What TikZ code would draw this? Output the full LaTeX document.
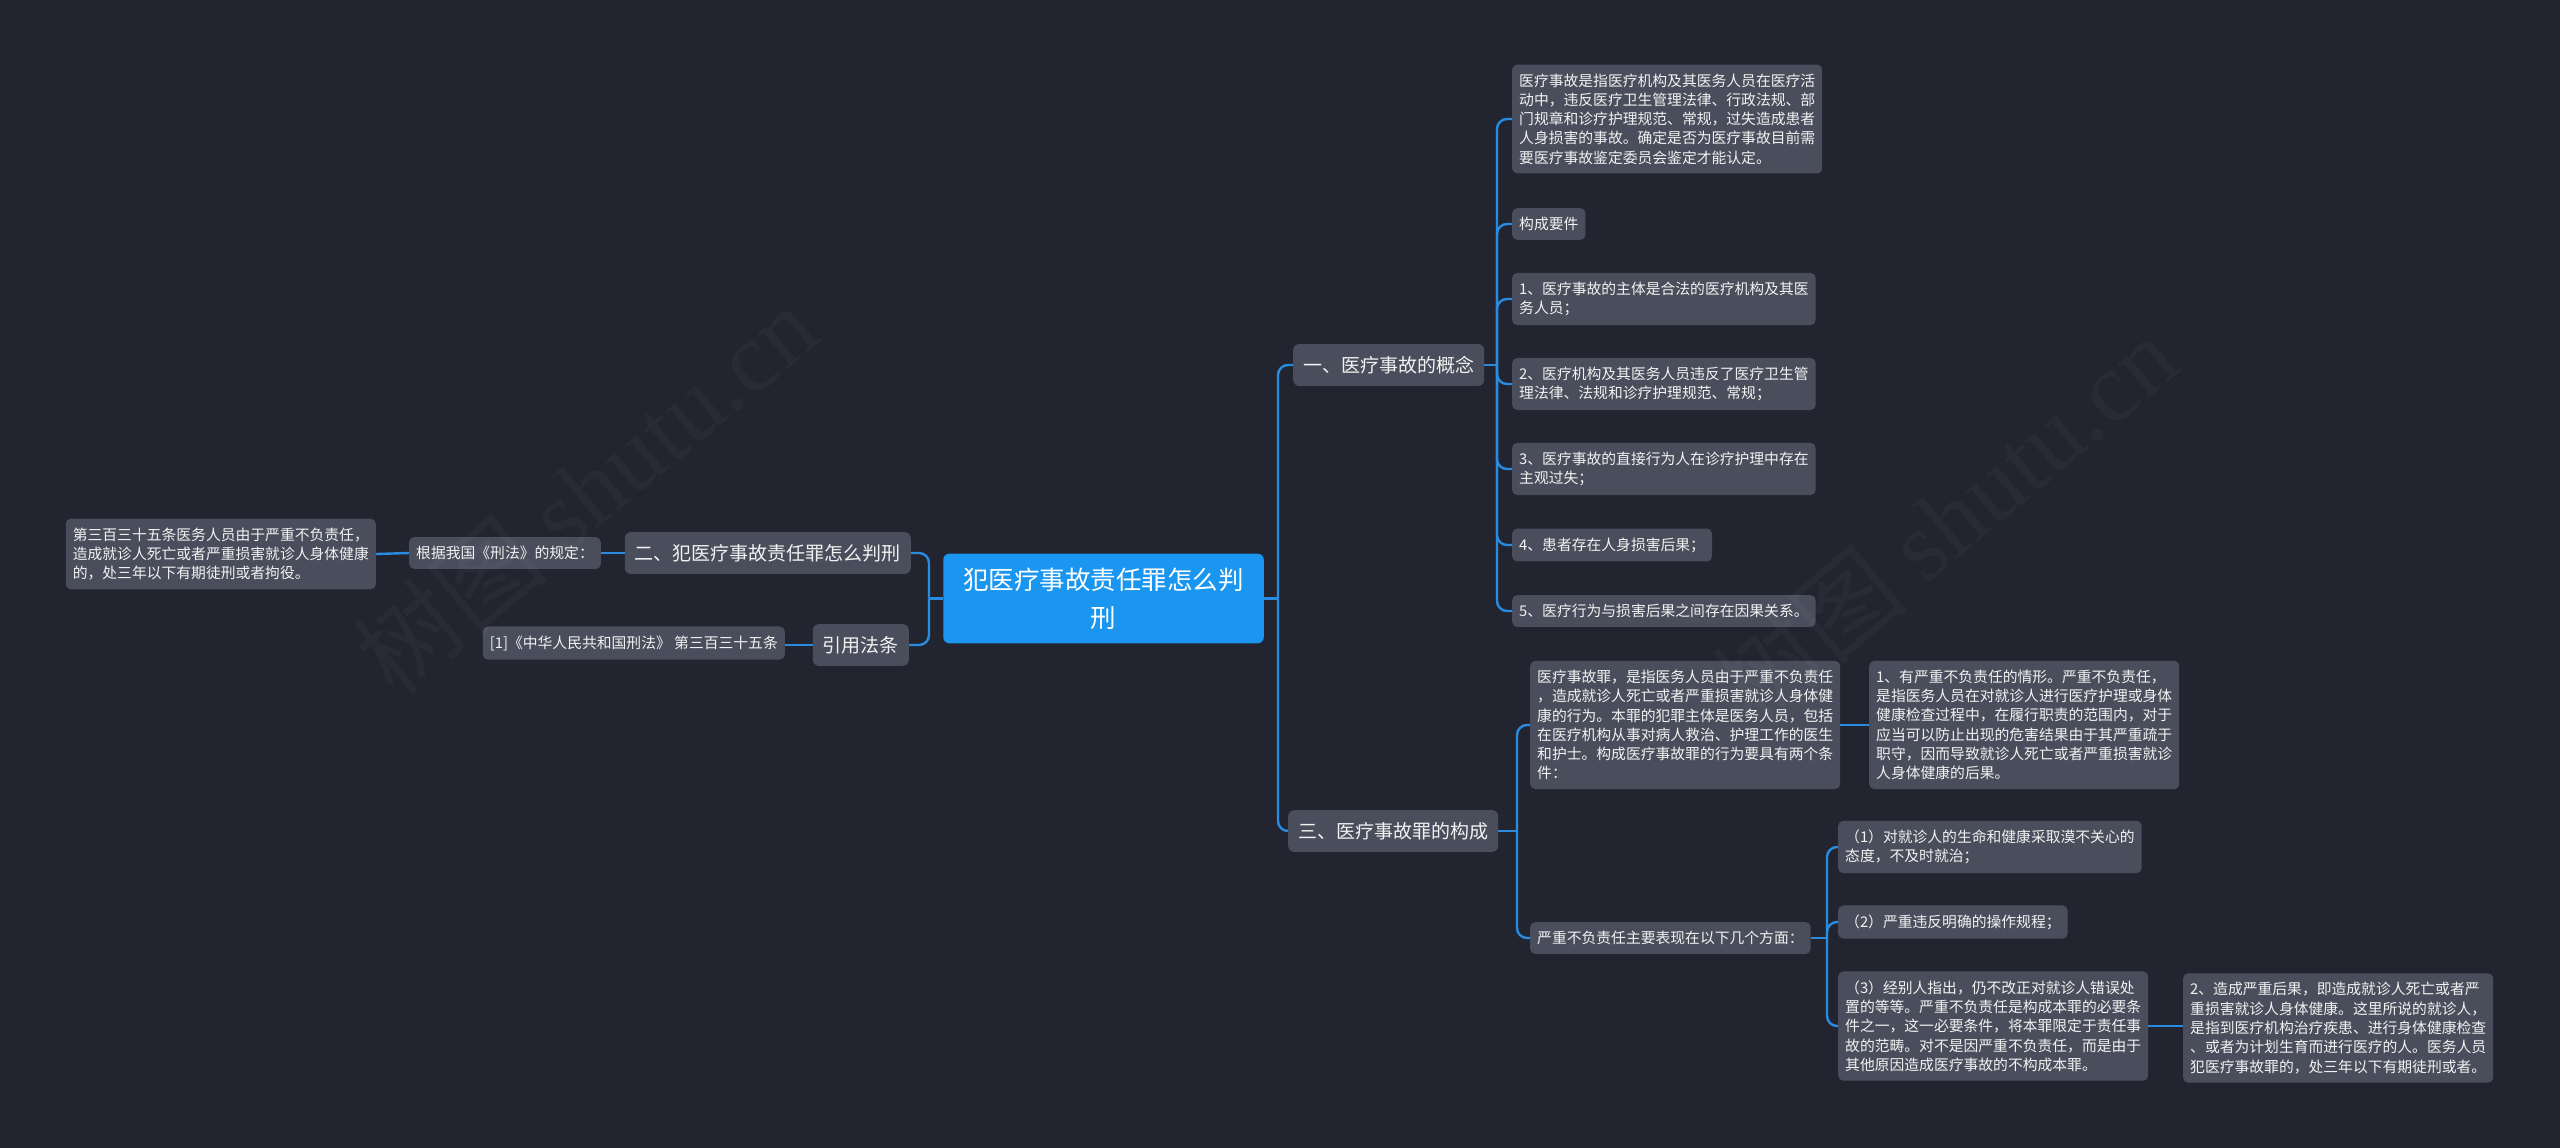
\documentclass[tikz,border=0pt]{standalone}
\usepackage{fontspec}
\setmainfont{Noto Sans CJK SC}
\newfontfamily\wmserif{Liberation Serif}

\definecolor{bgdark}{HTML}{222530}
\definecolor{boxgray}{HTML}{4A4E5C}
\definecolor{rootblue}{HTML}{1A96F0}
\definecolor{linkblue}{HTML}{2A8CE0}
\definecolor{txtwhite}{HTML}{F2F2F2}

\tikzset{
  leaf/.style={fill=boxgray, text=txtwhite, rounded corners=5pt, inner xsep=7pt, inner ysep=9pt, align=left, font=\fontsize{14.8}{19.3}\selectfont},
  branch/.style={fill=boxgray, text=txtwhite, rounded corners=6pt, inner xsep=10pt, inner ysep=12pt, font=\fontsize{19}{24}\selectfont},
  rootbox/.style={fill=rootblue, text=white, rounded corners=6pt, inner xsep=20pt, inner ysep=14pt, align=center, font=\fontsize{25.5}{38}\selectfont},
  link/.style={draw=linkblue, line width=2.4pt, rounded corners=10pt},
  wmark/.style={text=white, opacity=0.03, rotate=40, font=\fontsize{100}{100}\selectfont},
}

\begin{document}
\begin{tikzpicture}[x=1pt, y=-1pt]
		%%%%% canvas %%%%%
		\fill[bgdark] (0, 0) rectangle (2560, 1148);
		\useasboundingbox (0, 0) rectangle (2560, 1148);
		
		%%%%% root and branches %%%%%
		\node[rootbox] (root) at (1103.5, 598.5) {犯医疗事故责任罪怎么判\\刑};
		
		\node[branch, anchor=west] (gainian) at (1293, 365) {一、医疗事故的概念};
		\node[branch, anchor=west] (goucheng) at (1288, 831) {三、医疗事故罪的构成};
		\node[branch, anchor=east] (panxing) at (911, 553) {二、犯医疗事故责任罪怎么判刑};
		\node[branch, anchor=east] (fatiao) at (909, 645) {引用法条};
		
		%%%%% left side %%%%%
		\node[leaf, anchor=east] (guiding) at (601, 553) {根据我国《刑法》的规定：};
		\node[leaf, anchor=east] (tiaowen) at (376, 554) {第三百三十五条医务人员由于严重不负责任，\\造成就诊人死亡或者严重损害就诊人身体健康\\的，处三年以下有期徒刑或者拘役。};
		\node[leaf, anchor=east] (xingfa) at (785, 643) {[1]《中华人民共和国刑法》 第三百三十五条};
		
		%%%%% concept %%%%%
		\node[leaf, anchor=west] (dingyi) at (1512, 119) {医疗事故是指医疗机构及其医务人员在医疗活\\动中，违反医疗卫生管理法律、行政法规、部\\门规章和诊疗护理规范、常规，过失造成患者\\人身损害的事故。确定是否为医疗事故目前需\\要医疗事故鉴定委员会鉴定才能认定。};
		\node[leaf, anchor=west] (yaojian) at (1512, 224) {构成要件};
		\node[leaf, anchor=west] (yj1) at (1512, 299) {1、医疗事故的主体是合法的医疗机构及其医\\务人员；};
		\node[leaf, anchor=west] (yj2) at (1512, 384) {2、医疗机构及其医务人员违反了医疗卫生管\\理法律、法规和诊疗护理规范、常规；};
		\node[leaf, anchor=west] (yj3) at (1512, 469) {3、医疗事故的直接行为人在诊疗护理中存在\\主观过失；};
		\node[leaf, anchor=west] (yj4) at (1512, 545) {4、患者存在人身损害后果；};
		\node[leaf, anchor=west] (yj5) at (1512, 611) {5、医疗行为与损害后果之间存在因果关系。};
		
		%%%%% constitution %%%%%
		\node[leaf, anchor=west] (zuiming) at (1530, 725) {医疗事故罪，是指医务人员由于严重不负责任\\，造成就诊人死亡或者严重损害就诊人身体健\\康的行为。本罪的犯罪主体是医务人员，包括\\在医疗机构从事对病人救治、护理工作的医生\\和护士。构成医疗事故罪的行为要具有两个条\\件：};
		\node[leaf, anchor=west] (qingxing) at (1869, 725) {1、有严重不负责任的情形。严重不负责任，\\是指医务人员在对就诊人进行医疗护理或身体\\健康检查过程中，在履行职责的范围内，对于\\应当可以防止出现的危害结果由于其严重疏于\\职守，因而导致就诊人死亡或者严重损害就诊\\人身体健康的后果。};
		\node[leaf, anchor=west] (biaoxian) at (1530, 938) {严重不负责任主要表现在以下几个方面：};
		\node[leaf, anchor=west] (bx1) at (1838, 847) {（1）对就诊人的生命和健康采取漠不关心的\\态度，不及时就治；};
		\node[leaf, anchor=west] (bx2) at (1838, 922) {（2）严重违反明确的操作规程；};
		\node[leaf, anchor=west] (bx3) at (1838, 1026) {（3）经别人指出，仍不改正对就诊人错误处\\置的等等。严重不负责任是构成本罪的必要条\\件之一，这一必要条件，将本罪限定于责任事\\故的范畴。对不是因严重不负责任，而是由于\\其他原因造成医疗事故的不构成本罪。};
		\node[leaf, anchor=west] (houguo) at (2183, 1028) {2、造成严重后果，即造成就诊人死亡或者严\\重损害就诊人身体健康。这里所说的就诊人，\\是指到医疗机构治疗疾患、进行身体健康检查\\、或者为计划生育而进行医疗的人。医务人员\\犯医疗事故罪的，处三年以下有期徒刑或者。};
		
		%%%%% connectors %%%%%
		\coordinate (rj) at (1278, 598.5);
		\coordinate (lj) at (929, 598.5);
		\draw[link] (root.east) -- (rj);
		\draw[link] (rj) |- (gainian.west);
		\draw[link] (rj) |- (goucheng.west);
		\draw[link] (root.west) -- (lj);
		\draw[link] (lj) |- (panxing.east);
		\draw[link] (lj) |- (fatiao.east);
		
		\draw[link] (panxing.west) -- (guiding.east);
		\draw[link] (guiding.west) -- (tiaowen.east);
		\draw[link] (fatiao.west) -- (fatiao.west -| xingfa.east);
		
		\coordinate (gj) at (1497, 365);
		\draw[link] (gainian.east) -- (gj);
		\foreach \n in {dingyi, yaojian, yj1, yj2, yj3, yj4, yj5}
			\draw[link] (gj) |- (\n.west);
		
		\coordinate (cj) at (1517, 831);
		\draw[link] (goucheng.east) -- (cj);
		\draw[link] (cj) |- (zuiming.west);
		\draw[link] (cj) |- (biaoxian.west);
		\draw[link] (zuiming.east) -- (zuiming.east -| qingxing.west);
		
		\coordinate (bj) at (1827, 938);
		\draw[link] (biaoxian.east) -- (bj);
		\foreach \n in {bx1, bx2, bx3}
			\draw[link] (bj) |- (\n.west);
		\draw[link] (bx3.east) -- (bx3.east -| houguo.west);
		
		%%%%% watermark %%%%%
		\node[wmark] (wm1) at (585, 490) {树图 {\wmserif shutu.cn}};
		\node[wmark] (wm2) at (1945, 520) {树图 {\wmserif shutu.cn}};
\end{tikzpicture}
\end{document}
